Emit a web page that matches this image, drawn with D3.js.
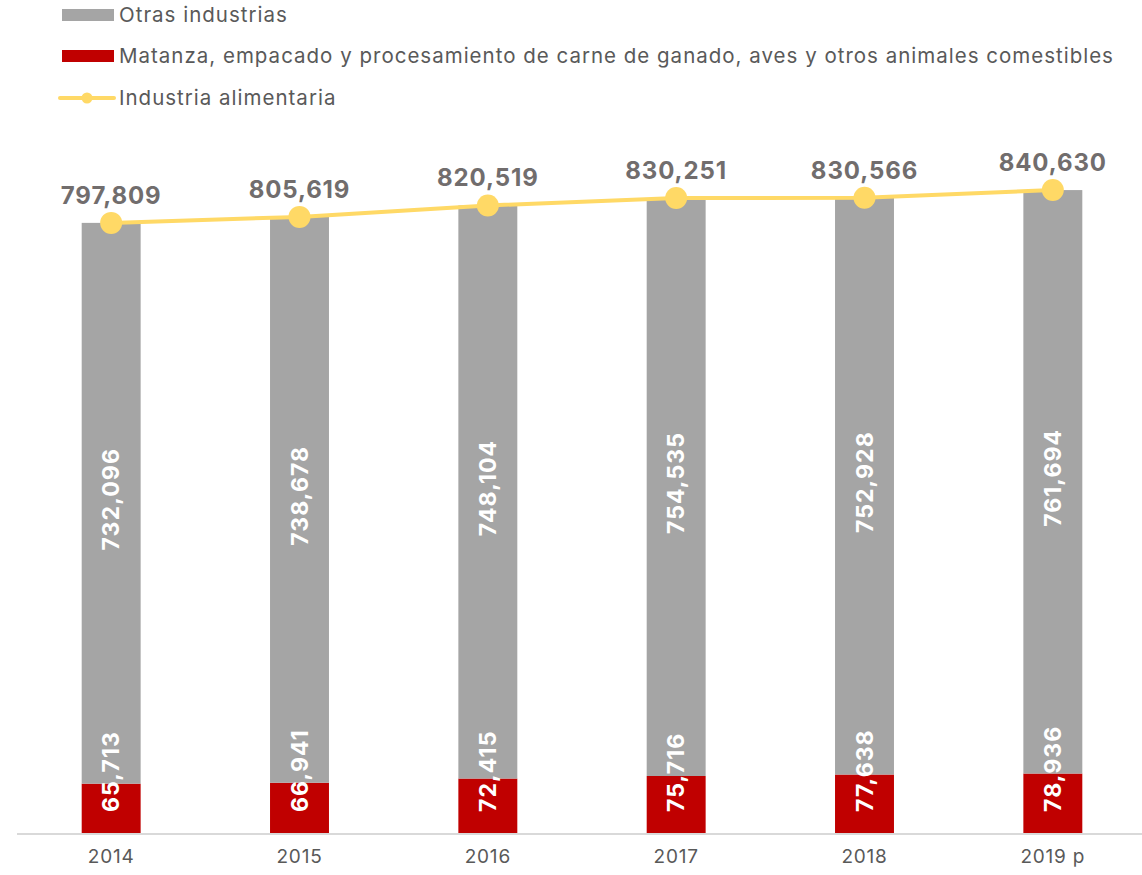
<!DOCTYPE html>
<html><head><meta charset="utf-8">
<script src="https://cdn.jsdelivr.net/npm/d3@7"></script>
<style>body{margin:0;background:#fff}svg{display:block}text{font-family:Inter,"Open Sans",sans-serif}</style>
</head><body><svg id="c" width="1142" height="875"></svg>
<script>
const years = ["2014","2015","2016","2017","2018","2019 p"];
const meat = [65713,66941,72415,75716,77638,78936];
const others = [732096,738678,748104,754535,752928,761694];
const total = [797809,805619,820519,830251,830566,840630];
const legendLabels = ["Otras industrias","Matanza, empacado y procesamiento de carne de ganado, aves y otros animales comestibles","Industria alimentaria"];
const colors = {others:"#A5A5A5", meat:"#C00000", line:"#FFD966"};

const svg = d3.select("#c");
const fmt = d3.format(",");
const x = d3.scaleBand().domain(years).range([17,1147]).paddingInner(0.687).paddingOuter(0.3435);
const y = d3.scaleLinear().domain([0,1000000]).range([834,68]);

const data = years.map((yr,i)=>({yr, meat:meat[i], others:others[i], total:total[i]}));
const stack = d3.stack().keys(["meat","others"])(data);

const g = svg.append("g");
stack.forEach(s=>{
  g.selectAll(null).data(s).join("rect")
    .attr("x",d=>x(d.data.yr)).attr("width",x.bandwidth())
    .attr("y",d=>y(d[1])).attr("height",d=>y(d[0])-y(d[1]))
    .attr("fill",colors[s.key]);
});

// axis
const ax = svg.append("g").attr("transform","translate(0,834)").call(d3.axisBottom(x).tickSize(0).tickPadding(16));
ax.select(".domain").attr("stroke","#D9D9D9").attr("stroke-width",2).attr("d","M17,0H1142");
ax.selectAll("text").attr("fill","#595959").attr("font-size",19).attr("letter-spacing",0.8).style("font-family","Inter,'Open Sans',sans-serif");

// labels inside bars
stack[1].forEach(d=>{
  const cx = x(d.data.yr)+x.bandwidth()/2, cy=(y(d[0])+y(d[1]))/2 - 4;
  svg.append("text").attr("transform",`translate(${cx+8},${cy}) rotate(-90)`)
    .attr("text-anchor","middle").attr("fill","#fff").attr("font-weight",700).attr("font-size",23).attr("letter-spacing",1.1)
    .text(fmt(d.data.others));
});
stack[0].forEach(d=>{
  const cx = x(d.data.yr)+x.bandwidth()/2;
  svg.append("text").attr("transform",`translate(${cx+8},${y(0)-22}) rotate(-90)`)
    .attr("text-anchor","start").attr("fill","#fff").attr("font-weight",700).attr("font-size",23).attr("letter-spacing",1.1)
    .text(fmt(d.data.meat));
});

// line
const cxF = d=>x(d.yr)+x.bandwidth()/2;
svg.append("path").datum(data).attr("fill","none").attr("stroke",colors.line).attr("stroke-width",4)
  .attr("d",d3.line().x(cxF).y(d=>y(d.total)));
svg.selectAll(null).data(data).join("circle").attr("cx",cxF).attr("cy",d=>y(d.total)).attr("r",11).attr("fill",colors.line);
svg.selectAll(null).data(data).join("text").attr("x",cxF).attr("y",d=>y(d.total)-19)
  .attr("text-anchor","middle").attr("fill","#716D6D").attr("font-weight",700).attr("font-size",24).attr("letter-spacing",0.9)
  .text(d=>fmt(d.total));

// legend
const lg = svg.append("g");
const rows=[15,56,98];
lg.append("rect").attr("x",62).attr("y",rows[0]-6).attr("width",52).attr("height",12).attr("fill",colors.others);
lg.append("rect").attr("x",62).attr("y",rows[1]-6).attr("width",52).attr("height",12).attr("fill",colors.meat);
lg.append("line").attr("x1",60).attr("x2",114).attr("y1",rows[2]).attr("y2",rows[2]).attr("stroke",colors.line).attr("stroke-width",4).attr("stroke-linecap","round");
lg.append("circle").attr("cx",87).attr("cy",rows[2]).attr("r",5.5).attr("fill",colors.line);
legendLabels.forEach((t,i)=>{
  lg.append("text").attr("x",119).attr("y",rows[i]).attr("dy","0.35em").attr("fill","#595959").attr("font-size",20.5).attr("letter-spacing",1.0).text(t);
});
</script></body></html>
